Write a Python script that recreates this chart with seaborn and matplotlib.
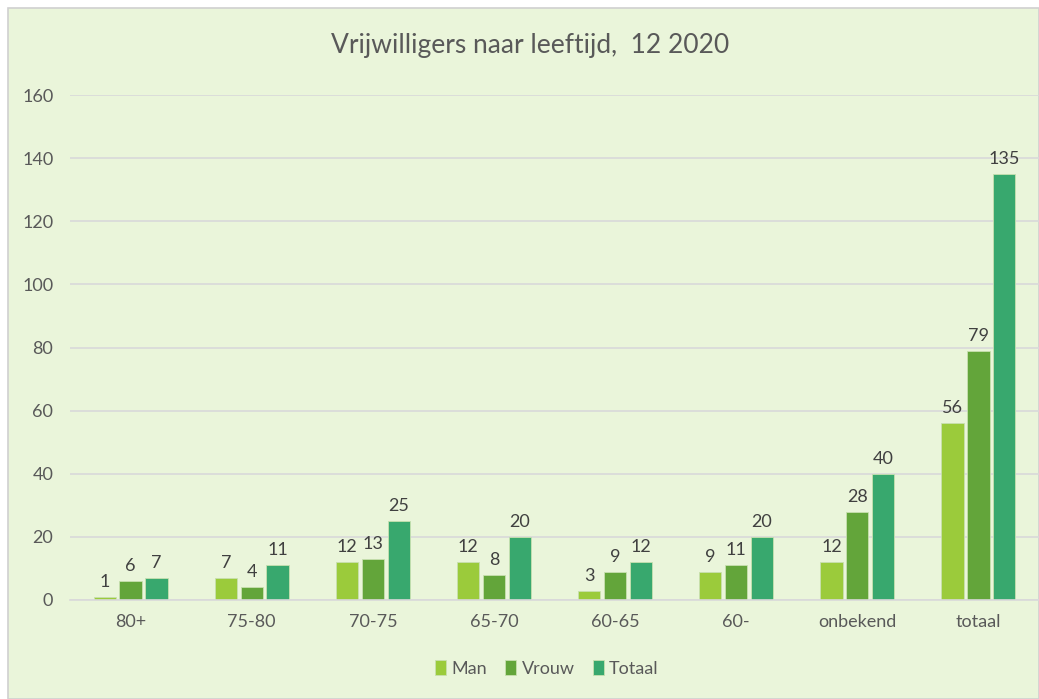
import numpy as np
import pandas as pd
import seaborn as sns
import matplotlib.pyplot as plt
from matplotlib.patches import Rectangle

categories = ['80+', '75-80', '70-75', '65-70', '60-65', '60-', 'onbekend', 'totaal']
man = [1, 7, 12, 12, 3, 9, 12, 56]
vrouw = [6, 4, 13, 8, 9, 11, 28, 79]
totaal = [7, 11, 25, 20, 12, 20, 40, 135]
series = ['Man', 'Vrouw', 'Totaal']
colors = ['#9BCB3B', '#63A53A', '#38A86E']

df = pd.DataFrame({
    'leeftijd': categories * 3,
    'serie': [s for s in series for _ in categories],
    'aantal': man + vrouw + totaal,
})

sns.set_style('white')
plt.rcParams['font.family'] = ['Lato', 'DejaVu Sans']

bg = '#EAF5DA'
fig = plt.figure(figsize=(10.39, 6.99), dpi=100)
fig.patch.set_facecolor('white')
fig.patches.append(Rectangle((8 / 1039, 0), 1 - 8 / 1039, 1 - 8 / 699, transform=fig.transFigure,
                             facecolor=bg, edgecolor='#D0D0D0', lw=1.2, zorder=-5))

ax = fig.add_axes([70 / 1039, 1 - 600 / 699, 1 - 70 / 1039, (600 - 95) / 699])
ax.set_facecolor('none')

sns.barplot(data=df, x='leeftijd', y='aantal', hue='serie', palette=colors,
            saturation=1, width=0.64, gap=0.14, ax=ax, legend=True,
            edgecolor='#C8E0B0', linewidth=0.6)

for cont in ax.containers:
    ax.bar_label(cont, padding=5, fontsize=13, color='#404040')

ax.set_ylim(0, 160)
ax.set_yticks(range(0, 161, 20))
ax.set_xlim(-0.5, 7.5)
ax.yaxis.grid(True, color='#D9D9D9', lw=1.2)
ax.set_axisbelow(True)
for s in ['top', 'right', 'left']:
    ax.spines[s].set_visible(False)
ax.spines['bottom'].set_color('#D9D9D9')
ax.spines['bottom'].set_linewidth(1.2)
ax.tick_params(axis='both', length=0, labelsize=13, colors='#595959')
ax.tick_params(axis='y', pad=12)
ax.tick_params(axis='x', pad=10)
ax.set_xlabel('')
ax.set_ylabel('')

fig.text(0.51, 1 - 45 / 699, 'Vrijwilligers naar leeftijd,  12 2020', ha='center', va='center',
         fontsize=19, color='#595959')

ax.legend(loc='center', bbox_to_anchor=(0.5 - 8 / 1039, -0.135), ncol=3, frameon=False,
          fontsize=13, handlelength=0.6, handleheight=0.9, handletextpad=0.3,
          columnspacing=1.0, labelcolor='#595959')

fig.savefig('out.png', dpi=100, facecolor=fig.get_facecolor())
